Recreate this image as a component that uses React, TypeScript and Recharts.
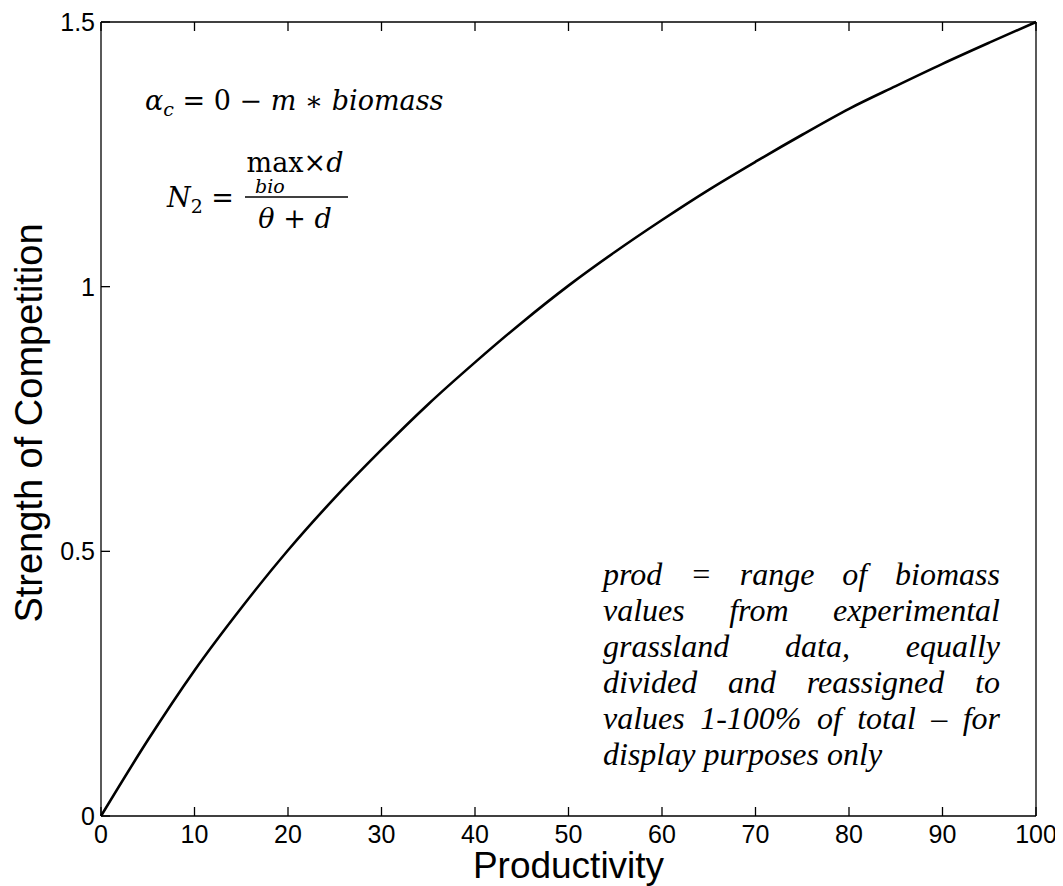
import { Label, Line, LineChart, XAxis, YAxis } from "recharts";

// productivity (% of biomass range) and strength of competition
const PRODUCTIVITY = [0, 5, 10, 15, 20, 25, 30, 35, 40, 45, 50, 55, 60, 65, 70, 75, 80, 85, 90, 95, 100];
const STRENGTH = [
  0, 0.143, 0.275, 0.393, 0.502, 0.601, 0.692, 0.778, 0.857, 0.932, 1.002,
  1.066, 1.126, 1.183, 1.236, 1.287, 1.336, 1.379, 1.421, 1.461, 1.5,
];
const X_TICKS = [0, 10, 20, 30, 40, 50, 60, 70, 80, 90, 100];
const Y_TICKS = [0, 0.5, 1, 1.5];

const NOTE_LINES = [
  "prod = range of biomass",
  "values from experimental",
  "grassland data, equally",
  "divided and reassigned to",
  "values 1-100% of total – for",
  "display purposes only",
];

const W = 1055;
const H = 878;
const TICK_LEN = 9;
const SANS = "'Liberation Sans', Arial, Helvetica, sans-serif";
const SERIF = "'Liberation Serif', 'Times New Roman', serif";
const MATH = "'DejaVu Serif', serif";

const data = PRODUCTIVITY.map((x, i) => ({ x, y: STRENGTH[i] }));

const axisLine = { stroke: "#000", strokeWidth: 1.3 };

// inward tick marks (matlab style) + label, drawn from the tick props recharts hands over
function BottomTick({ x, y, payload }: any) {
  return (
    <g>
      <line x1={x} x2={x} y1={y} y2={y - TICK_LEN} stroke="#000" strokeWidth={1.3} />
      <text x={x} y={y + 27} textAnchor="middle" fontSize={25} fontFamily={SANS} fill="#000">
        {payload.value}
      </text>
    </g>
  );
}

function LeftTick({ x, y, payload }: any) {
  return (
    <g>
      <line x1={x} x2={x + TICK_LEN} y1={y} y2={y} stroke="#000" strokeWidth={1.3} />
      <text
        x={x - 6}
        y={y}
        dy="0.36em"
        textAnchor="end"
        fontSize={25}
        fontFamily={SANS}
        fill="#000"
      >
        {String(payload.value)}
      </text>
    </g>
  );
}

function TopTick({ x, y }: any) {
  return <line x1={x} x2={x} y1={y} y2={y + TICK_LEN} stroke="#000" strokeWidth={1.3} />;
}

function RightTick({ x, y }: any) {
  return <line x1={x} x2={x - TICK_LEN} y1={y} y2={y} stroke="#000" strokeWidth={1.3} />;
}

function XTitle({ viewBox }: { viewBox?: any }) {
  if (!viewBox) return null;
  return (
    <text
      x={viewBox.x + viewBox.width / 2}
      y={viewBox.y + 62}
      textAnchor="middle"
      fontSize={37}
      fontFamily={SANS}
      fill="#000"
    >
      Productivity
    </text>
  );
}

function YTitle({ viewBox }: { viewBox?: any }) {
  if (!viewBox) return null;
  const cx = 34;
  const cy = viewBox.y + viewBox.height / 2 + 4;
  return (
    <text
      x={cx}
      y={cy}
      transform={`rotate(-90 ${cx} ${cy})`}
      textAnchor="middle"
      fontSize={38}
      fontFamily={SANS}
      fill="#000"
    >
      Strength of Competition
    </text>
  );
}

function Equations() {
  return (
    <svg
      width={W}
      height={H}
      style={{ position: "absolute", left: 0, top: 0, pointerEvents: "none" }}
    >
      <text x={137} y={102} fontFamily={MATH} fontSize={27} fill="#000">
        <tspan fontStyle="italic">α</tspan>
        <tspan fontStyle="italic" fontSize={19} dy={6}>c</tspan>
        <tspan dy={-6}>{" = 0 − "}</tspan>
        <tspan fontStyle="italic">m</tspan>
        <tspan>{" ∗ "}</tspan>
        <tspan fontStyle="italic">biomass</tspan>
      </text>

      <text x={159} y={199} fontFamily={MATH} fontSize={27} fill="#000">
        <tspan fontStyle="italic">N</tspan>
        <tspan fontSize={19} dy={6}>2</tspan>
        <tspan dy={-6}>{" ="}</tspan>
      </text>
      <text x={287} y={164} textAnchor="middle" fontFamily={MATH} fontSize={27} fill="#000">
        max×<tspan fontStyle="italic">d</tspan>
      </text>
      <text x={247} y={185} fontFamily={MATH} fontSize={19} fontStyle="italic" fill="#000">
        bio
      </text>
      <line x1={237} x2={340} y1={189} y2={189} stroke="#000" strokeWidth={1.6} />
      <text x={287} y={220} textAnchor="middle" fontFamily={MATH} fontSize={27} fill="#000">
        <tspan fontStyle="italic">θ</tspan>
        {" + "}
        <tspan fontStyle="italic">d</tspan>
      </text>
    </svg>
  );
}

function Note() {
  return (
    <div
      style={{
        position: "absolute",
        left: 595,
        top: 548,
        width: 397,
        fontFamily: SERIF,
        fontStyle: "italic",
        fontSize: 32,
        lineHeight: "36px",
        color: "#000",
        pointerEvents: "none",
      }}
    >
      {NOTE_LINES.map((line, i) => (
        <div
          key={i}
          style={{
            textAlign: "justify",
            textAlignLast: i === NOTE_LINES.length - 1 ? "left" : "justify",
            whiteSpace: "nowrap",
          }}
        >
          {line}
        </div>
      ))}
    </div>
  );
}

export default function App() {
  return (
    <div style={{ position: "relative", width: W, height: H, background: "#fff" }}>
      <LineChart
        width={W}
        height={H}
        data={data}
        margin={{ top: 13, right: 26, bottom: 30, left: 33 }}
      >
        <XAxis
          xAxisId="bottom"
          dataKey="x"
          type="number"
          domain={[0, 100]}
          ticks={X_TICKS}
          interval={0}
          height={40}
          tick={<BottomTick />}
          tickSize={0}
          tickMargin={0}
          tickLine={false}
          axisLine={axisLine}
          label={<Label content={<XTitle />} />}
        />
        <XAxis
          xAxisId="top"
          orientation="top"
          dataKey="x"
          type="number"
          domain={[0, 100]}
          ticks={X_TICKS}
          interval={0}
          height={1}
          tick={<TopTick />}
          tickSize={0}
          tickMargin={0}
          tickLine={false}
          axisLine={axisLine}
        />
        <YAxis
          yAxisId="left"
          type="number"
          domain={[0, 1.5]}
          ticks={Y_TICKS}
          interval={0}
          width={60}
          tick={<LeftTick />}
          tickSize={0}
          tickMargin={0}
          tickLine={false}
          axisLine={axisLine}
          label={<Label content={<YTitle />} />}
        />
        <YAxis
          yAxisId="right"
          orientation="right"
          type="number"
          domain={[0, 1.5]}
          ticks={Y_TICKS}
          interval={0}
          width={1}
          tick={<RightTick />}
          tickSize={0}
          tickMargin={0}
          tickLine={false}
          axisLine={axisLine}
        />
        <Line
          xAxisId="bottom"
          yAxisId="left"
          type="monotone"
          dataKey="y"
          stroke="#000"
          strokeWidth={2.6}
          dot={false}
          isAnimationActive={false}
        />
      </LineChart>
      <Equations />
      <Note />
    </div>
  );
}
